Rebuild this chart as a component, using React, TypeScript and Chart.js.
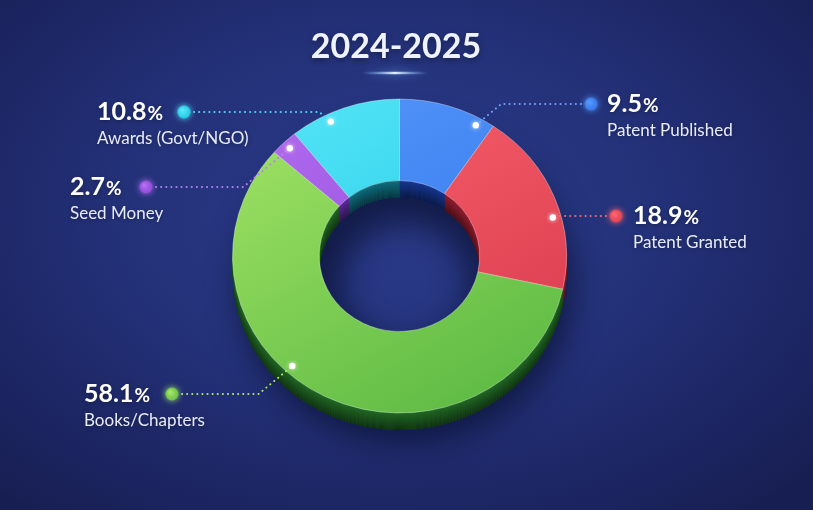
import { useEffect, useRef } from 'react';
import { Chart, ArcElement, DoughnutController } from 'chart.js';

Chart.register(ArcElement, DoughnutController);

// data, clockwise from 12 o'clock
const categories = ['Patent Published', 'Patent Granted', 'Books/Chapters', 'Seed Money', 'Awards (Govt/NGO)'];
const shares = [9.5, 18.9, 58.1, 2.7, 10.8];

// colours
const faceLight = ['#5598fb', '#fb6470', '#a4e566', '#b46ef0', '#58e6f8'];
const faceDark = ['#3475ea', '#dc3f50', '#62bd46', '#8b47d6', '#1ec8e4'];
const sideColors = ['#1a3fa6', '#a82236', '#26762a', '#6a2fb0', '#127e92'];
const leaderColors = ['#6ea4ff', '#ff6673', '#b2ea68', '#b97ff2', '#4fdcf2'];

// label placement (dot position, text column, where the leader meets the slice)
const labelLayout = [
  { side: 1, dotX: 591, dotY: 104, textX: 607, attach: 0.84 },
  { side: 1, dotX: 616, dotY: 216, textX: 633, attach: 0.6 },
  { side: -1, dotX: 172, dotY: 394, textX: 84, attach: 0.575 },
  { side: -1, dotX: 146, dotY: 187, textX: 70, attach: 0.5 },
  { side: -1, dotX: 184, dotY: 112, textX: 97, attach: 0.34 },
];

const TITLE = '2024-2025';
const SY = 0.94; // vertical squash of the top face
const DEPTH = 17; // extrusion height in px
const FONT = 'Lato, "Open Sans", sans-serif';

let squashed = false;

const donut3d = {
  id: 'donut3d',
  beforeDatasetsDraw(chart: any) {
    const ctx = chart.ctx;
    const meta = chart.getDatasetMeta(0);
    const first = meta.data[0];
    if (!first) return;
    const cx = first.x;
    const cy = first.y;

    // soft shadow under the ring
    ctx.save();
    ctx.filter = 'blur(16px)';
    ctx.fillStyle = 'rgba(4,8,32,0.6)';
    ctx.beginPath();
    ctx.ellipse(cx + 6, cy + DEPTH + 12, first.outerRadius, first.outerRadius * SY, 0, 0, Math.PI * 2);
    ctx.ellipse(cx + 6, cy + DEPTH + 12, first.innerRadius * 0.8, first.innerRadius * 0.8 * SY, 0, 0, Math.PI * 2);
    ctx.fill('evenodd');
    ctx.restore();

    ctx.save();
    squashed = true;
    ctx.translate(cx, cy);
    ctx.scale(1, SY);
    ctx.translate(-cx, -cy);

    // side walls: stacked copies of each slice, darker the deeper
    for (let d = DEPTH; d >= 1; d--) {
      const off = d / SY;
      meta.data.forEach((el: any, i: number) => {
        ctx.beginPath();
        ctx.arc(el.x, el.y + off, el.outerRadius, el.startAngle, el.endAngle);
        ctx.arc(el.x, el.y + off, el.innerRadius, el.endAngle, el.startAngle, true);
        ctx.closePath();
        ctx.fillStyle = sideColors[i];
        ctx.fill();
        ctx.fillStyle = `rgba(0,0,0,${0.1 + (0.5 * d) / DEPTH})`;
        ctx.fill();
      });
    }
  },
  afterDatasetsDraw(chart: any) {
    if (squashed) {
      chart.ctx.restore();
      squashed = false;
    }
  },
  afterDraw(chart: any) {
    const ctx = chart.ctx;
    const meta = chart.getDatasetMeta(0);

    // title
    ctx.save();
    ctx.font = `bold 34px ${FONT}`;
    ctx.textAlign = 'center';
    ctx.textBaseline = 'alphabetic';
    ctx.fillStyle = '#eef3ff';
    ctx.shadowColor = 'rgba(0,0,0,0.4)';
    ctx.shadowBlur = 6;
    ctx.shadowOffsetY = 2;
    ctx.fillText(TITLE, 396, 58);
    ctx.restore();

    // glowing underline
    ctx.save();
    const ug = ctx.createLinearGradient(362, 0, 428, 0);
    ug.addColorStop(0, 'rgba(120,180,255,0)');
    ug.addColorStop(0.5, 'rgba(225,240,255,1)');
    ug.addColorStop(1, 'rgba(120,180,255,0)');
    ctx.strokeStyle = ug;
    ctx.lineWidth = 2.5;
    ctx.shadowColor = 'rgba(110,170,255,0.9)';
    ctx.shadowBlur = 8;
    ctx.beginPath();
    ctx.moveTo(362, 73);
    ctx.lineTo(428, 73);
    ctx.stroke();
    ctx.restore();

    meta.data.forEach((el: any, i: number) => {
      const lay = labelLayout[i];
      const a = el.startAngle + (el.endAngle - el.startAngle) * lay.attach;
      const r = el.outerRadius * 0.95;
      const px = el.x + Math.cos(a) * r;
      const py = el.y + Math.sin(a) * r * SY;
      const dy = Math.abs(py - lay.dotY);
      const bendX = px + lay.side * dy * 1.2;

      // dotted leader
      ctx.save();
      ctx.strokeStyle = leaderColors[i];
      ctx.lineWidth = 2;
      ctx.lineCap = 'round';
      ctx.setLineDash([0.1, 5]);
      ctx.beginPath();
      ctx.moveTo(lay.dotX - lay.side * 10, lay.dotY);
      ctx.lineTo(bendX, lay.dotY);
      ctx.lineTo(px, py);
      ctx.stroke();
      ctx.restore();

      // white point on the slice
      ctx.save();
      ctx.fillStyle = '#ffffff';
      ctx.shadowColor = 'rgba(255,255,255,0.8)';
      ctx.shadowBlur = 4;
      ctx.beginPath();
      ctx.arc(px, py, 3.2, 0, Math.PI * 2);
      ctx.fill();
      ctx.restore();

      // coloured bullet
      ctx.save();
      const bg = ctx.createRadialGradient(lay.dotX - 2, lay.dotY - 2, 1, lay.dotX, lay.dotY, 7);
      bg.addColorStop(0, faceLight[i]);
      bg.addColorStop(1, faceDark[i]);
      ctx.fillStyle = bg;
      ctx.shadowColor = faceLight[i];
      ctx.shadowBlur = 6;
      ctx.beginPath();
      ctx.arc(lay.dotX, lay.dotY, 6.5, 0, Math.PI * 2);
      ctx.fill();
      ctx.restore();

      // texts
      ctx.save();
      ctx.textAlign = 'left';
      ctx.textBaseline = 'alphabetic';
      ctx.shadowColor = 'rgba(0,0,0,0.35)';
      ctx.shadowBlur = 4;
      ctx.shadowOffsetY = 1;
      ctx.fillStyle = '#ffffff';
      const num = shares[i].toFixed(1);
      const base = lay.dotY + 8;
      ctx.font = `bold 25px ${FONT}`;
      ctx.fillText(num, lay.textX, base);
      const w = ctx.measureText(num).width;
      ctx.font = `bold 19px ${FONT}`;
      ctx.fillText('%', lay.textX + w + 1, base);
      ctx.font = `17px ${FONT}`;
      ctx.fillStyle = '#e8ecfa';
      ctx.fillText(categories[i], lay.textX, base + 24);
      ctx.restore();
    });
  },
};

function faceFill(i: number) {
  return (c: any) => {
    const area = c.chart.chartArea;
    if (!area) return faceDark[i];
    const g = c.chart.ctx.createLinearGradient(area.left, area.top, area.right * 0.6 + area.left * 0.4, area.bottom);
    g.addColorStop(0, faceLight[i]);
    g.addColorStop(1, faceDark[i]);
    return g;
  };
}

export default function App() {
  const canvasRef = useRef<HTMLCanvasElement>(null);

  useEffect(() => {
    document.body.style.margin = '0';
    if (!canvasRef.current) return;
    const chart = new Chart(canvasRef.current, {
      type: 'doughnut',
      data: {
        labels: categories,
        datasets: [
          {
            data: shares,
            backgroundColor: (c: any) => faceFill(c.dataIndex)(c),
            borderColor: 'rgba(255,255,255,0.35)',
            borderWidth: 1,
            clip: false,
          } as any,
        ],
      },
      options: {
        animation: false,
        responsive: true,
        maintainAspectRatio: false,
        radius: 167,
        cutout: 80,
        layout: { padding: { left: 232, right: 246, top: 89, bottom: 87 } },
        plugins: {
          legend: { display: false },
          tooltip: { enabled: false },
        },
        events: [],
      } as any,
      plugins: [donut3d],
    });
    return () => chart.destroy();
  }, []);

  return (
    <div
      style={{
        width: 813,
        height: 510,
        position: 'relative',
        overflow: 'hidden',
        background:
          'radial-gradient(ellipse 70% 75% at 48% 42%, #2b3b8a 0%, #24327a 45%, #1c2562 80%, #171f52 100%)',
      }}
    >
      <canvas ref={canvasRef} />
    </div>
  );
}
